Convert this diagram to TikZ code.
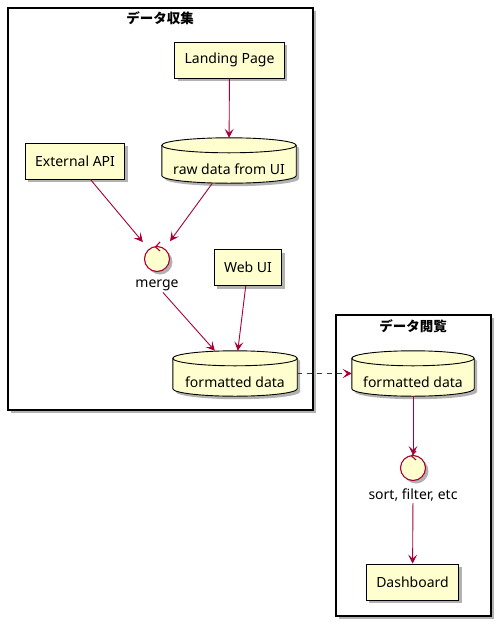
\documentclass[tikz,border=0pt]{standalone}
\usepackage{fontspec}
\setmainfont{Noto Sans}
\newfontfamily\jpfont{Noto Sans CJK JP}
\usetikzlibrary{positioning,shadows,arrows.meta,calc}
\definecolor{umlfill}{HTML}{FEFECE}
\definecolor{umlline}{HTML}{A80036}

% cylinder drawn round a named database node
\newcommand{\umldb}[1]{%
  \path[umlshadow, draw, line width=0.9pt, fill=umlfill]
    let \p1=(#1.north west), \p2=(#1.south east), \n1={(\x2-\x1)/2} in
    (\x1,\y1-7.5pt) -- (\x1,\y2+7.5pt)
    arc[start angle=180, end angle=360, x radius=\n1, y radius=7.5pt]
    -- (\x2,\y1-7.5pt)
    arc[start angle=0, end angle=180, x radius=\n1, y radius=7.5pt] -- cycle;
  \draw[line width=0.9pt]
    let \p1=(#1.north west), \p2=(#1.south east), \n1={(\x2-\x1)/2} in
    (\x1,\y1-7.5pt) arc[start angle=180, end angle=360, x radius=\n1, y radius=7.5pt];
}

\begin{document}
\begin{tikzpicture}
  [
    x=1pt, y=-1pt,
    font=\fontsize{14}{16}\selectfont,
    umlshadow/.style={drop shadow={shadow xshift=3pt, shadow yshift=-3pt, opacity=0.3, fill=black}},
    package/.style={draw, line width=1.2pt, fill=white, umlshadow},
    pkgtitle/.style={font=\jpfont\bfseries\fontsize{13.5}{15}\selectfont},
    component/.style={draw, line width=0.9pt, fill=umlfill, minimum height=36pt, inner xsep=10pt, umlshadow},
    database/.style={minimum height=45pt, inner sep=0pt},
    control/.style={circle, draw=umlline, line width=1.1pt, fill=umlfill, minimum size=25pt, inner sep=0pt, umlshadow},
    flow/.style={draw=umlline, line width=0.9pt, -{Stealth[length=9pt, width=9pt, inset=4pt]}},
    chevron/.style={draw=umlline, line width=1.1pt}
  ]
  \useasboundingbox (0,0) rectangle (501,627);

  % packages
  \draw[package] (8,8) rectangle (313,410);
  \node[pkgtitle] (collecttitle) at (160,18) {データ収集};
  \draw[package] (336,315) rectangle (491,616);
  \node[pkgtitle] (viewtitle) at (413,326) {データ閲覧};

  % データ収集
  \node[component] (landing) at (229.5,60) {Landing Page};
  \node[component] (extapi) at (75,161) {External API};
  \node[database, minimum width=134pt] (rawdata) at (229,160.5) {};
  \umldb{rawdata}
  \node[yshift=-9pt] (rawdatatext) at (rawdata.center) {raw data from UI};
  \node[control, label={[name=mergelbl, inner sep=1pt, label distance=7pt]below:merge}] (merge) at (157,259) {};
  \draw[chevron] ([xshift=3pt,yshift=4pt]merge.north) -- ([xshift=-1.5pt,yshift=-1pt]merge.north) -- ([xshift=3pt,yshift=-5pt]merge.north);
  \node[component] (webui) at (248,267.5) {Web UI};
  \node[database, minimum width=124pt] (fmtleft) at (235,373.5) {};
  \umldb{fmtleft}
  \node[yshift=-9pt] (fmtlefttext) at (fmtleft.center) {formatted data};

  % データ閲覧
  \node[database, minimum width=122pt] (fmtright) at (413,373.5) {};
  \umldb{fmtright}
  \node[yshift=-9pt] (fmtrighttext) at (fmtright.center) {formatted data};
  \node[control, label={[name=sortlbl, inner sep=1pt, label distance=7pt]below:{sort, filter, etc}}] (sortf) at (413,468) {};
  \node[component] (dash) at (412.5,582) {Dashboard};

  \draw[flow] (landing) -- (rawdata);
  \draw[flow, shorten >=9pt] (extapi) -- (merge);
  \draw[flow, shorten >=9pt] (rawdata) -- (merge);
  \draw[flow] (mergelbl) -- (fmtleft);
  \draw[flow] (webui) -- (fmtleft);
  \draw[flow, dashed, dash pattern=on 5pt off 5pt] (fmtleft) -- (fmtright);
  \draw[flow] (fmtright) -- (sortf);
  \draw[chevron] ([xshift=3pt,yshift=4pt]sortf.north) -- ([xshift=-1.5pt,yshift=-1pt]sortf.north) -- ([xshift=3pt,yshift=-5pt]sortf.north);
  \draw[flow] (sortlbl) -- (dash);

\end{tikzpicture}
\end{document}
